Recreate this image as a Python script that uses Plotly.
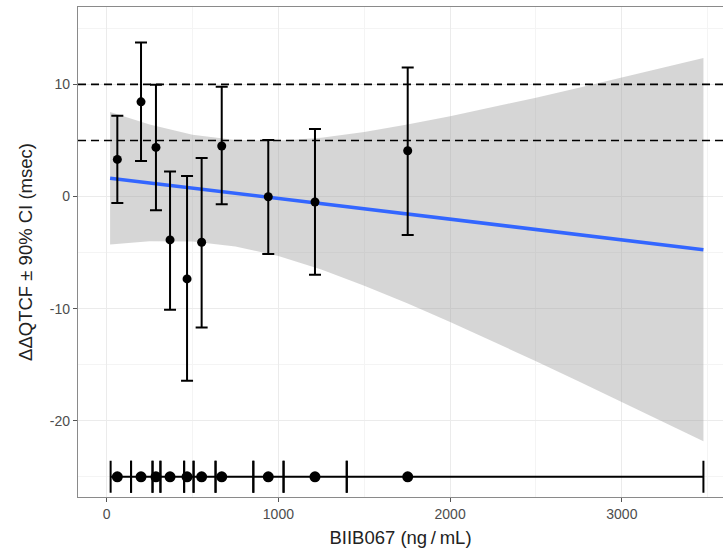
import plotly.graph_objects as go

# Binned observations (mean conc per bin, ddQTcF mean and 90% CI)
conc = [62, 200, 287, 369, 468, 553, 670, 941, 1213, 1753]
ddqtcf = [3.31, 8.44, 4.38, -3.87, -7.35, -4.08, 4.50, -0.02, -0.49, 4.08]
ci_upper = [7.2, 13.73, 9.96, 2.24, 1.83, 3.43, 9.78, 5.03, 6.01, 11.5]
ci_lower = [-0.58, 3.16, -1.23, -10.1, -16.43, -11.68, -0.7, -5.12, -6.99, -3.43]

# Concentration bin edges (deciles) shown at the bottom
bin_edges = [23, 142, 267, 313, 451, 506, 634, 854, 1030, 1398, 3475]
rug_y = -25

# Linear regression fit and its confidence band
fit_x = [20, 250, 500, 750, 1000, 1250, 1500, 1750, 2000, 2250, 2500, 2750, 3000, 3250, 3475]
fit_y = [1.63, 1.21, 0.75, 0.29, -0.17, -0.64, -1.10, -1.56, -2.02, -2.48, -2.94, -3.40, -3.86, -4.32, -4.74]
band_upper = [7.53, 6.41, 5.51, 5.03, 4.97, 5.24, 5.75, 6.41, 7.16, 7.97, 8.81, 9.70, 10.60, 11.49, 12.35]
band_lower = [-4.27, -3.99, -4.01, -4.45, -5.31, -6.52, -7.95, -9.53, -11.20, -12.93, -14.69, -16.50, -18.32, -20.13, -21.83]

# Reference thresholds (msec)
thresholds = [5, 10]

x_ticks = [0, 1000, 2000, 3000]
y_ticks = [-20, -10, 0, 10]

fig = go.Figure()

fig.add_trace(go.Scatter(x=fit_x, y=band_upper, mode="lines", line=dict(width=0),
                         showlegend=False, hoverinfo="skip"))
fig.add_trace(go.Scatter(x=fit_x, y=band_lower, mode="lines", line=dict(width=0),
                         fill="tonexty", fillcolor="rgba(153,153,153,0.4)",
                         showlegend=False, hoverinfo="skip"))
fig.add_trace(go.Scatter(x=fit_x, y=fit_y, mode="lines",
                         line=dict(color="#3366FF", width=3.5), showlegend=False))

for t in thresholds:
    fig.add_hline(y=t, line=dict(color="black", width=1.6, dash="8px,5px"), layer="above")

fig.add_trace(go.Scatter(
    x=conc, y=ddqtcf, mode="markers",
    marker=dict(color="black", size=9),
    error_y=dict(type="data", symmetric=False,
                 array=[u - m for u, m in zip(ci_upper, ddqtcf)],
                 arrayminus=[m - l for m, l in zip(ddqtcf, ci_lower)],
                 color="black", thickness=2, width=6),
    showlegend=False))

fig.add_trace(go.Scatter(
    x=conc, y=[rug_y] * len(conc), mode="markers",
    marker=dict(color="black", size=11),
    error_x=dict(type="data", symmetric=False,
                 array=[bin_edges[i + 1] - c for i, c in enumerate(conc)],
                 arrayminus=[c - bin_edges[i] for i, c in enumerate(conc)],
                 color="black", thickness=2, width=16),
    showlegend=False))

fig.update_layout(
    width=723, height=556,
    margin=dict(l=78, r=0, t=7, b=59, pad=0),
    paper_bgcolor="white", plot_bgcolor="white",
    font=dict(family="Liberation Sans, Arial, sans-serif"),
)
fig.update_xaxes(
    automargin=False,
    range=[-167, 3589], tickvals=x_ticks, ticktext=[str(v) for v in x_ticks],
    showgrid=True, gridcolor="#ebebeb", gridwidth=1,
    minor=dict(tickvals=[500, 1500, 2500, 3500], showgrid=True, gridcolor="#f4f4f4", gridwidth=0.7),
    showline=True, linecolor="#8a8a8a", linewidth=1.2, mirror=True,
    ticks="outside", ticklen=4, tickcolor="#555555",
    tickfont=dict(size=14, color="#4d4d4d"), zeroline=False,
    title=dict(text="BIIB067 (ng\u2009/\u2009mL)", font=dict(size=18.5, color="#222222"), standoff=10),
)
fig.update_yaxes(
    automargin=False,
    range=[-26.8, 16.9], tickvals=y_ticks, ticktext=[str(v) for v in y_ticks],
    showgrid=True, gridcolor="#ebebeb", gridwidth=1,
    minor=dict(tickvals=[-25, -15, -5, 5, 15], showgrid=True, gridcolor="#f4f4f4", gridwidth=0.7),
    showline=True, linecolor="#8a8a8a", linewidth=1.2, mirror=False,
    ticks="outside", ticklen=4, tickcolor="#555555",
    tickfont=dict(size=14, color="#4d4d4d"), zeroline=False,
    title=dict(text="ΔΔQTCF ± 90% CI (msec)", font=dict(size=18.5, color="#222222"), standoff=12),
)

fig.write_html("out.html", post_script="document.body.style.margin='0';",
               config={"displayModeBar": False})
